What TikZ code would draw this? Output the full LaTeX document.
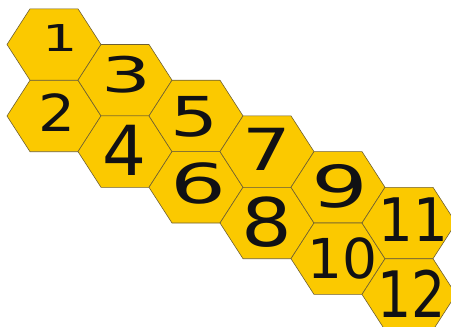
\documentclass[tikz,border=0pt]{standalone}
\usepackage{graphicx}
\usepackage{fontspec}
\setmainfont{DejaVu Sans}
\definecolor{hexfill}{RGB}{251,201,0}
\definecolor{hexline}{RGB}{110,95,50}
\definecolor{numcol}{RGB}{17,17,20}
\newcommand\hexat[2]{\path[hexcell] (#1-47,#2) -- (#1-24,#2-35.7) -- (#1+24,#2-35.7) -- (#1+47,#2) -- (#1+24,#2+35.7) -- (#1-24,#2+35.7) -- cycle;}
\newcommand\numlab[3]{\fontsize{#1}{#1}\selectfont\scalebox{#2}[1]{#3}}
\begin{document}
\begin{tikzpicture}[x=1pt,y=-1pt,
  hexcell/.style={fill=hexfill,draw=hexline,line width=0.6pt,line join=miter},
  lab/.style={inner sep=0pt,text=numcol}]
\useasboundingbox (0,0) rectangle (451,327);
\clip (0,0) rectangle (451,327);
\hexat{54}{44.5}
\hexat{54}{116}
\hexat{125}{80.2}
\hexat{125}{151.6}
\hexat{196}{115.9}
\hexat{196}{187.3}
\hexat{267}{151.6}
\hexat{267}{223}
\hexat{338}{187.3}
\hexat{338}{258.7}
\hexat{409}{223}
\hexat{409}{294.4}
\node[lab] (n1) at (60,38.5) {\numlab{37}{1.5}{1}};
\node[lab] (n2) at (56.5,112.5) {\numlab{51}{1.14}{2}};
\node[lab] (n3) at (126.5,75) {\numlab{49}{1.6}{3}};
\node[lab] (n4) at (124.5,150) {\numlab{69}{1.0}{4}};
\node[lab] (n5) at (194.5,117) {\numlab{55}{1.37}{5}};
\node[lab] (n6) at (198,183) {\numlab{55}{1.6}{6}};
\node[lab] (n7) at (266.5,149) {\numlab{58}{1.32}{7}};
\node[lab] (n8) at (267,222.5) {\numlab{67}{1.19}{8}};
\node[lab] (n9) at (340,186) {\numlab{58}{1.54}{9}};
\node[lab] (n10) at (342.5,258) {\numlab{55}{1.0}{10}};
\node[lab] (n11) at (413.5,220) {\numlab{60}{0.91}{11}};
\node[lab] (n12) at (411.5,293.5) {\numlab{64}{0.84}{12}};
\end{tikzpicture}
\end{document}
